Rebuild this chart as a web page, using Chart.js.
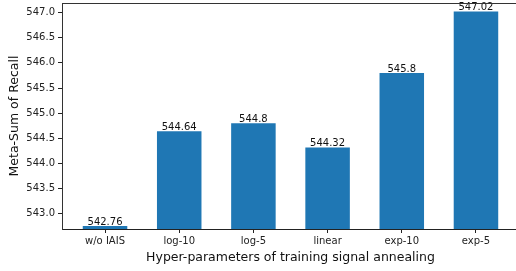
<!DOCTYPE html>
<html lang="en">
<head>
    <meta charset="UTF-8">
    <title>Training signal annealing</title>
    <script src="https://cdn.jsdelivr.net/npm/chart.js"></script>
    <style>
        body { margin: 0; background: #fff; overflow: hidden; }
        #wrap { width: 519px; height: 271px; }
    </style>
</head>
<body>
    <div id="wrap"><canvas id="barChart"></canvas></div>

    <script>
        // values
        const categories = ['w/o IAIS', 'log-10', 'log-5', 'linear', 'exp-10', 'exp-5'];
        const recallSums = [542.76, 544.64, 544.8, 544.32, 545.8, 547.02];
        const barLabels = ['542.76', '544.64', '544.8', '544.32', '545.8', '547.02'];
        const yTicks = [543.0, 543.5, 544.0, 544.5, 545.0, 545.5, 546.0, 546.5, 547.0];

        const font = 'DejaVu Sans';

        // value labels on top of each bar + top/right frame
        const extras = {
            id: 'extras',
            afterDatasetsDraw(chart) {
                const ctx = chart.ctx;
                const meta = chart.getDatasetMeta(0);
                ctx.save();
                ctx.font = '10px "' + font + '"';
                ctx.fillStyle = '#111';
                ctx.textAlign = 'center';
                ctx.textBaseline = 'bottom';
                meta.data.forEach((bar, i) => {
                    ctx.fillText(barLabels[i], bar.x, bar.y + 1);
                });
                const a = chart.chartArea;
                ctx.strokeStyle = '#333';
                ctx.lineWidth = 1;
                ctx.beginPath();
                ctx.moveTo(a.left, a.top + 0.5);
                ctx.lineTo(a.right, a.top + 0.5);
                ctx.lineTo(a.right, a.bottom);
                ctx.stroke();
                ctx.restore();
            }
        };

        const noEdgePadding = axis => {
            axis.paddingTop = 0;
            axis.paddingBottom = 0;
            axis.paddingLeft = 0;
            axis.paddingRight = 0;
        };

        window.onload = function() {
            new Chart(document.getElementById('barChart'), {
                type: 'bar',
                data: {
                    datasets: [{
                        data: recallSums.map((v, i) => ({ x: i, y: v })),
                        backgroundColor: '#1f77b4',
                        barPercentage: 0.6,
                        categoryPercentage: 1.0
                    }]
                },
                options: {
                    responsive: true,
                    maintainAspectRatio: false,
                    animation: false,
                    layout: { padding: { top: 3, left: 0, right: 0, bottom: 0 } },
                    plugins: { legend: { display: false }, tooltip: { enabled: false } },
                    scales: {
                        x: {
                            type: 'linear',
                            min: -0.58,
                            max: 5.58,
                            offset: false,
                            afterBuildTicks: axis => { axis.ticks = categories.map((c, i) => ({ value: i })); },
                            afterFit: noEdgePadding,
                            ticks: {
                                callback: v => categories[v],
                                color: '#222',
                                font: { family: font, size: 10 },
                                padding: 2,
                                maxRotation: 0
                            },
                            grid: { offset: false, drawOnChartArea: false, tickLength: 4, color: '#222' },
                            border: { color: '#222' },
                            title: {
                                display: true,
                                text: 'Hyper-parameters of training signal annealing',
                                color: '#111',
                                font: { family: font, size: 12.5 },
                                padding: { top: 1, bottom: 6 }
                            }
                        },
                        y: {
                            min: 542.7,
                            max: 547.19,
                            afterBuildTicks: axis => { axis.ticks = yTicks.map(v => ({ value: v })); },
                            afterFit: axis => { axis.width = 62; noEdgePadding(axis); },
                            ticks: {
                                callback: v => v.toFixed(1),
                                color: '#222',
                                font: { family: font, size: 10 },
                                padding: 3
                            },
                            grid: { drawOnChartArea: false, tickLength: 4, color: '#222' },
                            border: { color: '#333' },
                            title: {
                                display: true,
                                text: 'Meta-Sum of Recall',
                                color: '#111',
                                font: { family: font, size: 12.5 },
                                padding: { top: 7, bottom: 2 }
                            }
                        }
                    }
                },
                plugins: [extras]
            });
        };
    </script>
</body>
</html>
